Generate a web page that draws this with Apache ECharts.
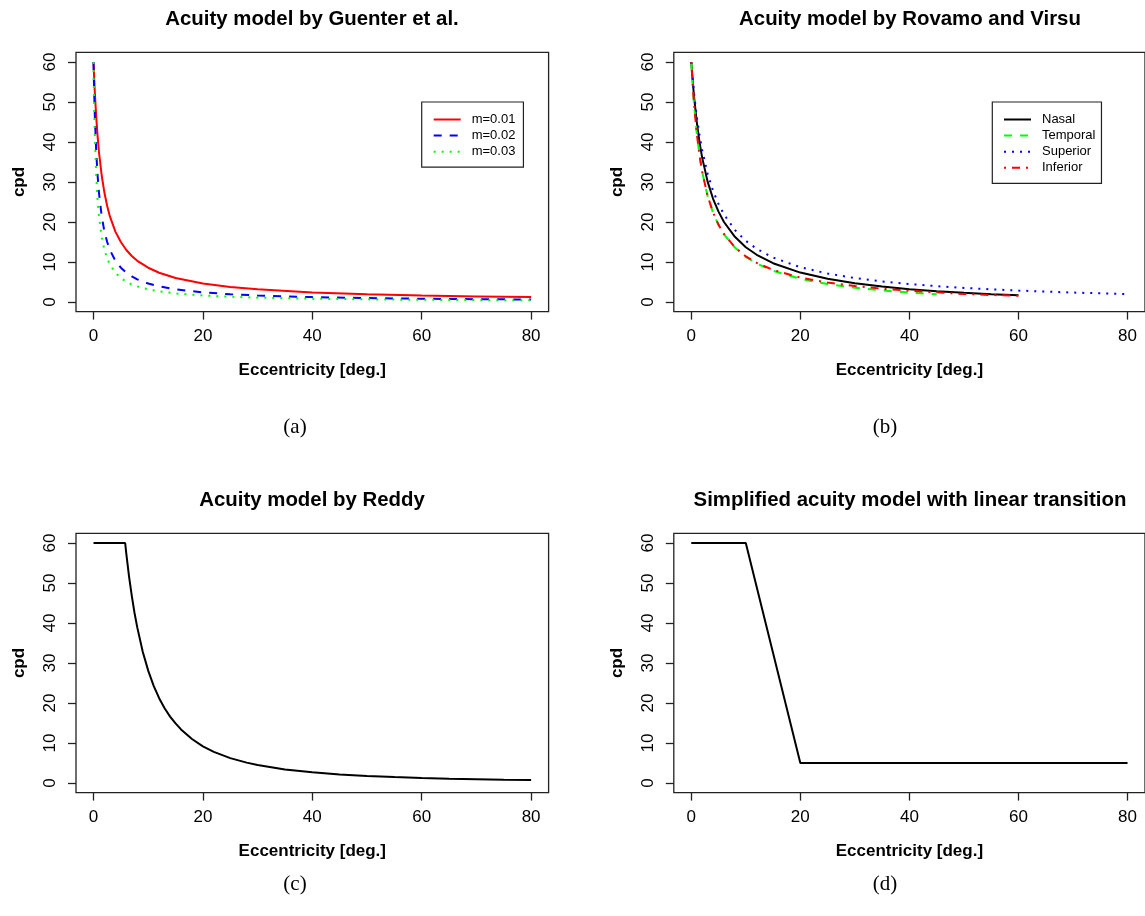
<!DOCTYPE html>
<html><head><meta charset="utf-8">
<script src="https://cdn.jsdelivr.net/npm/echarts@6/dist/echarts.min.js"></script>
<style>html,body{margin:0;padding:0;background:#fff}#c{width:1145px;height:916px}</style>
</head><body><div id="c"></div>
<script>
// ---- tick labels ----
const xTicks = [0, 20, 40, 60, 80];
const yTicks = [0, 10, 20, 30, 40, 50, 60];

// ---- (a) Guenter et al. ----
const guenterX = [0,0.1,0.25,0.5,0.75,1,1.5,2,2.5,3,4,5,6,7,8,10,12,15,20,25,30,40,50,60,70,80];
const guenterM001 = [60,56.6,52.2,46.2,41.4,37.5,31.6,27.3,24.0,21.4,17.6,15.0,13.0,11.5,10.3,8.57,7.32,6.00,4.62,3.75,3.16,2.40,1.94,1.62,1.40,1.22];
const guenterM002 = [60,53.6,46.2,37.5,31.6,27.3,21.4,17.6,15.0,13.0,10.3,8.57,7.32,6.38,5.66,4.62,3.90,3.16,2.40,1.94,1.62,1.22,0.98,0.82,0.71,0.62];
const guenterM003 = [60,50.8,41.4,31.6,25.5,21.4,16.2,13.0,10.9,9.38,7.32,6.00,5.08,4.41,3.90,3.16,2.65,2.14,1.62,1.30,1.09,0.82,0.66,0.55,0.47,0.41];

// ---- (b) Rovamo and Virsu ----
const rovamoX = [0,0.5,1,1.5,2,3,4,5,6,8,10,12,15,20,25,30,35,40,45,50,55,60,65,70,75,80];
const nasal    = [60,51.5,45.1,40.1,36.1,30.1,25.8,22.6,20.0,16.3,13.7,11.8,9.70,7.35,5.80,4.69,3.86,3.21,2.70,2.29,1.95,1.67];
const temporal = [60,49.6,42.3,36.8,32.6,26.5,22.3,19.3,16.9,13.6,11.3,9.60,7.79,5.79,4.49,3.56,2.88,2.35,1.95];
const superior = [60,52.4,46.5,41.8,38.0,32.1,27.8,24.5,21.9,18.0,15.3,13.3,11.1,8.70,7.11,5.99,5.14,4.49,3.96,3.53,3.17,2.86,2.59,2.36,2.16,1.98];
const inferior = [60,49.6,42.3,36.8,32.6,26.5,22.4,19.3,17.0,13.7,11.4,9.78,8.02,6.10,4.85,3.98,3.32,2.81,2.41,2.01,1.75,1.58];

// ---- (c) Reddy ----
const reddyX = [0,5.79,6,6.5,7,7.5,8,9,10,11,12,13,14,15,16,18,20,22,25,28,30,35,40,45,50,55,60,65,70,75,80];
const reddyY = [60,60,57.3,51.6,46.8,42.5,38.9,32.8,28.1,24.3,21.2,18.7,16.6,14.9,13.4,11.0,9.17,7.78,6.22,5.09,4.49,3.40,2.66,2.14,1.76,1.47,1.24,1.07,0.93,0.81,0.72];

// ---- (d) linear transition ----
const linearX = [0,10,20,80];
const linearY = [60,60,5,5];

const FONT = 'Liberation Sans';
function pairs(xs, ys){ return ys.map((y,i)=>[xs[i], y]); }

const grids = [
  {left:76,    top:52.4,  width:472.6, height:259.2},
  {left:673.8, top:52.4,  width:472.7, height:259.2},
  {left:76,    top:533.4, width:472.6, height:259.2},
  {left:673.8, top:533.4, width:472.7, height:259.2}
].map(g => Object.assign(g, {show:true, borderColor:'#222', borderWidth:1.3, backgroundColor:'transparent'}));

const xAxes = grids.map((g,i)=>({
  type:'value', gridIndex:i, min:-3.2, max:83.2, position:'bottom',
  name:'Eccentricity [deg.]', nameLocation:'middle', nameGap:50,
  nameTextStyle:{fontFamily:FONT, fontSize:17, fontWeight:'bold', color:'#000'},
  axisLine:{show:false, onZero:false},
  axisTick:{show:true, inside:false, customValues:xTicks, length:8, lineStyle:{color:'#222', width:1.3}},
  axisLabel:{show:true, customValues:xTicks, margin:16, fontFamily:FONT, fontSize:17, color:'#000'},
  splitLine:{show:false}
}));
const yAxes = grids.map((g,i)=>({
  type:'value', gridIndex:i, min:-2.4, max:62.4, position:'left',
  name:'cpd', nameLocation:'middle', nameGap:48,
  nameTextStyle:{fontFamily:FONT, fontSize:17, fontWeight:'bold', color:'#000'},
  axisLine:{show:false, onZero:false},
  axisTick:{show:true, inside:false, customValues:yTicks, length:8, lineStyle:{color:'#222', width:1.3}},
  axisLabel:{show:true, customValues:yTicks, rotate:90, margin:17, fontFamily:FONT, fontSize:17, color:'#000'},
  splitLine:{show:false}
}));

function line(name, idx, xs, ys, color, type){
  return {type:'line', name:name, xAxisIndex:idx, yAxisIndex:idx, data:pairs(xs,ys),
    symbol:'none', smooth:false, clip:true,
    lineStyle:{color:color, width:2, type:type}, itemStyle:{color:color}};
}

const DASH=[8,8], DOT=[2,6], DOTDASH=[2,6,8,6];

const series = [
  line('m=0.01',0,guenterX,guenterM001,'#FF0000','solid'),
  line('m=0.02',0,guenterX,guenterM002,'#0000FF',DASH),
  line('m=0.03',0,guenterX,guenterM003,'#00FF00',DOT),
  line('Nasal',1,rovamoX,nasal,'#000000','solid'),
  line('Temporal',1,rovamoX,temporal,'#00FF00',DASH),
  line('Superior',1,rovamoX,superior,'#0000FF',DOT),
  line('Inferior',1,rovamoX,inferior,'#FF0000',DOTDASH),
  line('Reddy',2,reddyX,reddyY,'#000000','solid'),
  line('Linear',3,linearX,linearY,'#000000','solid')
];

const legendBase = {
  orient:'vertical', itemWidth:27, itemHeight:16, itemGap:3.1,
  itemStyle:{opacity:0},
  textStyle:{fontFamily:FONT, fontSize:13, color:'#000', padding:[0,0,0,6]},
  borderColor:'#222', borderWidth:1.2, backgroundColor:'#fff',
  selectedMode:false
};

const titleStyle = {fontFamily:FONT, fontSize:20.4, fontWeight:'bold', color:'#000'};
const titles = [
  {text:'Acuity model by Guenter et al.', left:312, top:9},
  {text:'Acuity model by Rovamo and Virsu', left:910, top:9},
  {text:'Acuity model by Reddy', left:312, top:490},
  {text:'Simplified acuity model with linear transition', left:910, top:490}
].map(t => Object.assign(t, {textAlign:'center', padding:0, textStyle:titleStyle}));

const captionStyle = {fontFamily:'Liberation Serif', fontSize:21, fill:'#000', textAlign:'center', textVerticalAlign:'middle'};
const captions = [['(a)',295,427],['(b)',885,427],['(c)',295,884],['(d)',885,884]];

const option = {
  animation:false,
  backgroundColor:'#fff',
  title: titles,
  grid: grids,
  xAxis: xAxes,
  yAxis: yAxes,
  legend: [
    Object.assign({}, legendBase, {data:['m=0.01','m=0.02','m=0.03'], left:421.7, top:102, padding:[11,8,9,11]}),
    Object.assign({}, legendBase, {data:['Nasal','Temporal','Superior','Inferior'], left:992.3, top:102, padding:[11,6,9,10.7]})
  ],
  series: series,
  graphic: captions.map(c => ({type:'text', x:c[1], y:c[2], silent:true,
    style:Object.assign({text:c[0]}, captionStyle)}))
};

const chart = echarts.init(document.getElementById('c'), null, {renderer:'canvas'});
chart.setOption(option);
</script>
</body></html>
